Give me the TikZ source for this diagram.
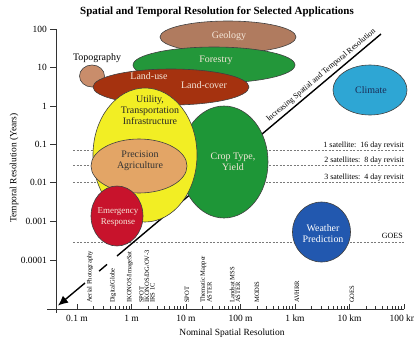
\documentclass[tikz,border=0pt]{standalone}
\usepackage{fontspec}
\setmainfont{Liberation Serif}
\usetikzlibrary{shapes.geometric,arrows.meta}
\definecolor{geo}{HTML}{B07B5F}
\definecolor{forest}{HTML}{23973A}
\definecolor{topo}{HTML}{C98D6B}
\definecolor{landuse}{HTML}{A5320F}
\definecolor{util}{HTML}{F2EE24}
\definecolor{prec}{HTML}{E3A566}
\definecolor{emerg}{HTML}{C8132C}
\definecolor{crop}{HTML}{1E9637}
\definecolor{clim}{HTML}{2EA6D4}
\definecolor{weather}{HTML}{2258AF}
\definecolor{lighttxt}{HTML}{F4E6D8}
\definecolor{navytxt}{HTML}{1B2B55}
\definecolor{dashgray}{HTML}{7A7A7A}
\begin{document}
\begin{tikzpicture}[x=1bp,y=-1bp,
  blob/.style={ellipse, draw=black!75, line width=0.6pt, inner sep=0pt},
  lab/.style={font=\fontsize{10}{11}\selectfont, align=center, inner sep=0pt},
  ticklab/.style={font=\fontsize{9.5}{11}\selectfont, inner sep=0pt},
  sens/.style={font=\fontsize{6.6}{5.6}\selectfont, rotate=90, anchor=west, align=left, inner sep=0pt},
  satlab/.style={font=\fontsize{8}{9}\selectfont, anchor=base east, inner sep=0pt},
  dashline/.style={draw=dashgray, line width=0.8pt, dash pattern=on 2bp off 1.5bp},
  axisline/.style={draw=black!80, line width=0.7pt},
  diag/.style={draw=black, line width=1.4pt}
]
\useasboundingbox (0,0) rectangle (414,344);

% title
\node[font=\bfseries\fontsize{11}{13}\selectfont, inner sep=0pt] (title) at (217,12) {Spatial and Temporal Resolution for Selected Applications};

% dashed revisit lines
\coordinate (d1l) at (73,150); \coordinate (d1r) at (404,150);
\coordinate (d2l) at (73,165); \coordinate (d2r) at (404,165);
\coordinate (d3l) at (73,182); \coordinate (d3r) at (404,182);
\coordinate (d4l) at (73,242); \coordinate (d4r) at (404,242);
\draw[dashline] (d1l) -- (d1r);
\draw[dashline] (d2l) -- (d2r);
\draw[dashline] (d3l) -- (d3r);
\draw[dashline] (d4l) -- (d4r);
\node[satlab] (s1) at (404,147) {1 satellite:\ \ 16 day revisit};
\node[satlab] (s2) at (404,162) {2 satellites:\ \ 8 day revisit};
\node[satlab] (s3) at (404,179) {3 satellites:\ \ 4 day revisit};
\node[satlab] (goes) at (403,238) {GOES};

% diagonal line
\coordinate (dtop) at (381,34);
\coordinate (dmid) at (117,256);
\coordinate (dash1a) at (107,264.4);
\coordinate (dash1b) at (99,271.2);
\coordinate (arra) at (85,283);
\coordinate (arrb) at (58,305.6);
\draw[diag] (dtop) -- node[pos=0.21, sloped, above, inner sep=2.5bp, font=\fontsize{8}{9}\selectfont] (inc) {Increasing Spatial and Temporal Resolution} (dmid);
\draw[diag] (dash1a) -- (dash1b);
\draw[diag, -{Latex[length=10bp,width=9bp]}] (arra) -- (arrb);

% application ellipses
\node[blob, fill=geo, minimum width=136bp, minimum height=32bp] (geology) at (228,37) {};
\node[lab, text=lighttxt] (geolab) at (229,36) {Geology};
\node[blob, fill=forest, minimum width=162bp, minimum height=36bp] (forestry) at (214,65) {};
\node[lab, text=lighttxt] (forlab) at (216,60) {Forestry};
\node[blob, fill=topo, minimum width=25bp, minimum height=22bp] (topo) at (92,76) {};
\node[lab] (topolab) at (97,58) {Topography};
\node[blob, fill=landuse, minimum width=156bp, minimum height=36bp] (landuse) at (171,87) {};
\node[lab, text=lighttxt] (lulab) at (149,76) {Land-use};
\node[lab, text=lighttxt] (lclab) at (204,85) {Land-cover};
\node[blob, fill=crop, minimum width=88bp, minimum height=112bp] (crop) at (224,162) {};
\node[lab, text=lighttxt] (croplab) at (233,161.5) {Crop Type,\\Yield};
\node[blob, fill=util, minimum width=104bp, minimum height=134bp] (util) at (145,155) {};
\node[lab, text=black!85] (utillab) at (150,110) {Utility,\\Transportation\\Infrastructure};
\node[blob, fill=prec, minimum width=96bp, minimum height=54bp] (prec) at (139,166) {};
\node[lab, text=black!80] (preclab) at (140,161) {Precision\\Agriculture};
\node[blob, fill=emerg, minimum width=52bp, minimum height=60bp] (emerg) at (117,216) {};
\node[lab, text=lighttxt, font=\fontsize{9}{11.5}\selectfont] (emerglab) at (118,217) {Emergency\\Response};
\node[blob, fill=clim, minimum width=74bp, minimum height=50bp] (climate) at (370,90) {};
\node[lab, text=navytxt] (climlab) at (371,90) {Climate};
\node[blob, fill=weather, minimum width=58bp, minimum height=60bp] (weather) at (321.5,232) {};
\node[lab, text=white, font=\fontsize{10}{11.5}\selectfont] (wlab) at (323,233.5) {Weather\\Prediction};

% axes
\coordinate (ytop) at (56,29);
\coordinate (ybot) at (56,313);
\coordinate (xleft) at (47,309);
\coordinate (xright) at (404,309);
\draw[axisline] (ytop) -- (ybot);
\draw[axisline] (xleft) -- (xright);
\foreach \yy/\tt [count=\i] in {29/100, 67.5/10, 106/1, 144/0.1, 182.5/0.01, 221/0.001, 260/0.0001} {
  \draw[axisline] (50,\yy) -- (56,\yy);
  \node[ticklab, anchor=east] (yt\i) at (47,\yy) {\tt};
}
\foreach \k/\tt in {0/0.1 m, 1/1 m, 2/10 m, 3/100 m, 4/1 km, 5/10 km, 6/100 km} {
  \draw[axisline] ({77+54.5*\k},309) -- ({77+54.5*\k},303.5);
  \node[ticklab, anchor=north] (xt\k) at ({77+54.5*\k},315) {\tt};
}
\foreach \k in {0,...,5} {
  \foreach \m in {2,...,9} {
    \draw[axisline, line width=0.5pt] ({77+54.5*(\k+ln(\m)/ln(10))},309) -- ({77+54.5*(\k+ln(\m)/ln(10))},306);
  }
}
\node[ticklab] (xtitle) at (232,333) {Nominal Spatial Resolution};
\node[ticklab, rotate=90] (ytitle) at (14,168) {Temporal Resolution (Years)};

% sensors
\node[sens] (aerial) at (90,303) {Aerial Photography};
\node[sens] (dglobe) at (113,303) {DigitalGlobe};
\node[sens] (ikonos) at (130,303) {IKONOS/ImageSat};
\node[sens] (spot1) at (147,303) {SPOT\\IKONOS/DG/OV-3\\IRS 1C};
\node[sens] (spot2) at (187,303) {SPOT};
\node[sens] (tm) at (206,303) {Thematic Mapper\\ASTER};
\node[sens] (mss) at (235,303) {Landsat MSS\\ASTER};
\node[sens] (modis) at (257,303) {MODIS};
\node[sens] (avhrr) at (297,303) {AVHRR};
\node[sens] (goess) at (352,303) {GOES};
\end{tikzpicture}
\end{document}
